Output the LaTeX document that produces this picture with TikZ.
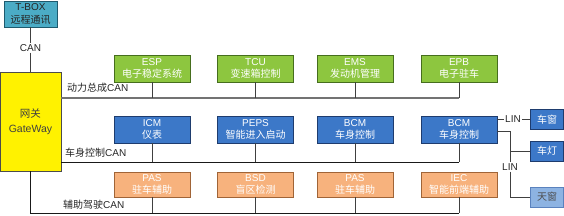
\documentclass[tikz,border=0pt]{standalone}
\usepackage{fontspec}
\setmainfont{Liberation Sans}
\newfontfamily\cjk{Noto Sans CJK SC}
\definecolor{grnf}{RGB}{141,198,63}
\definecolor{grnd}{RGB}{70,110,30}
\definecolor{bluf}{RGB}{60,120,200}
\definecolor{blud}{RGB}{30,60,110}
\definecolor{ornf}{RGB}{247,178,125}
\definecolor{ornd}{RGB}{160,100,55}
\definecolor{tealf}{RGB}{75,172,198}
\definecolor{teald}{RGB}{30,90,110}
\definecolor{ltbf}{RGB}{141,179,226}
\definecolor{ltbd}{RGB}{90,130,190}
\tikzset{
  ecu/.style={draw, line width=0.8pt, minimum width=76pt, minimum height=27pt, inner sep=0pt, align=center, font=\fontsize{10}{12.5}\selectfont, text=white},
  gbox/.style={ecu, fill=grnf, draw=grnd},
  bbox/.style={ecu, fill=bluf, draw=blud},
  obox/.style={ecu, fill=ornf, draw=ornd, minimum height=25pt},
  sbox/.style={draw=blud, fill=bluf, line width=0.8pt, minimum width=33pt, minimum height=20pt, inner sep=0pt, font=\fontsize{10}{12}\selectfont, text=white},
  lbl/.style={inner sep=1pt, font=\fontsize{10}{12}\selectfont, text=black!85},
  pbus/.style={draw=black!55, line width=1.6pt},
  bus/.style={draw=black!90, line width=0.9pt},
  thin/.style={draw=black!75, line width=0.8pt}
}
\begin{document}
\begin{tikzpicture}[x=1pt,y=-1pt]
\useasboundingbox (0,0) rectangle (564,216);
% T-BOX and gateway
\node[draw=teald, fill=tealf, line width=0.8pt, minimum width=53pt, minimum height=26pt, inner sep=0pt, align=center, font=\fontsize{10}{12.5}\selectfont, text=black!85] (tbox) at (30.5,14) {T-BOX\\{\cjk 远程通讯}};
\node[draw=black!70, fill=yellow, line width=0.8pt, minimum width=61pt, minimum height=99pt, inner sep=0pt, align=center, font=\fontsize{10.5}{15}\selectfont, text=black!75] (gw) at (30.5,121.5) {{\cjk 网关}\\GateWay};
\node[lbl] (can) at (30.5,48) {CAN};
\draw[thin] (tbox.south) -- (can.north);
\draw[thin] (can.south) -- (gw.north);
% bus coordinates
\coordinate (pwr) at (0,98);
\coordinate (body) at (0,162);
\coordinate (ast) at (0,213);
% green row
\node[gbox] (esp) at (152,68.5) {ESP\\{\cjk 电子稳定系统}};
\node[gbox] (tcu) at (255.5,68.5) {TCU\\{\cjk 变速箱控制}};
\node[gbox] (ems) at (355,68.5) {EMS\\{\cjk 发动机管理}};
\node[gbox] (epb) at (459,68.5) {EPB\\{\cjk 电子驻车}};
% blue row
\node[bbox] (icm) at (152,129.5) {ICM\\{\cjk 仪表}};
\node[bbox] (peps) at (255.5,129.5) {PEPS\\{\cjk 智能进入启动}};
\node[bbox] (bcma) at (355,129.5) {BCM\\{\cjk 车身控制}};
\node[bbox] (bcmb) at (459,129.5) {BCM\\{\cjk 车身控制}};
% orange row
\node[obox] (pasa) at (152,184.5) {PAS\\{\cjk 驻车辅助}};
\node[obox] (bsd) at (255.5,184.5) {BSD\\{\cjk 盲区检测}};
\node[obox] (pasb) at (355,184.5) {PAS\\{\cjk 驻车辅助}};
\node[obox] (iec) at (459,184.5) {IEC\\{\cjk 智能前端辅助}};
% buses
\draw[pbus] (gw.east |- pwr) -- (epb.south |- pwr);
\foreach \n in {esp,tcu,ems,epb} \draw[thin] (\n.south) -- (\n.south |- pwr);
\draw[bus] (gw.east |- body) -- (bcmb.south |- body);
\foreach \n in {icm,peps,bcma,bcmb} \draw[thin] (\n.south) -- (\n.south |- body);
\draw[bus] (gw.south) -- (gw.south |- ast) -- (iec.south |- ast);
\foreach \n in {pasa,bsd,pasb,iec} \draw[thin] (\n.south) -- (\n.south |- ast);
% bus labels
\node[lbl, anchor=west] (l1) at (66,88) {{\cjk 动力总成}CAN};
\node[lbl, anchor=west] (l2) at (64,152.5) {{\cjk 车身控制}CAN};
\node[lbl, anchor=west] (l3) at (62,205) {{\cjk 辅助驾驶}CAN};
% LIN devices
\node[sbox] (chuang) at (547,119.5) {\cjk 车窗};
\node[sbox] (deng) at (547,151) {\cjk 车灯};
\node[sbox, fill=ltbf, draw=ltbd, text=black!70] (tian) at (547,197) {\cjk 天窗};
\node[lbl] (lina) at (513,119.5) {LIN};
\node[lbl] (linb) at (510,167) {LIN};
\draw[thin] (bcmb.east |- chuang) -- (lina.west);
\draw[thin] (lina.east) -- (chuang.west);
\coordinate (j) at (510,131);
\draw[thin] (bcmb.east |- j) -- (j) -- (linb.north);
\draw[thin] (j |- deng) -- (deng.west);
\draw[thin] (linb.south) -- (linb.south |- tian) -- (tian.west);
\end{tikzpicture}
\end{document}
